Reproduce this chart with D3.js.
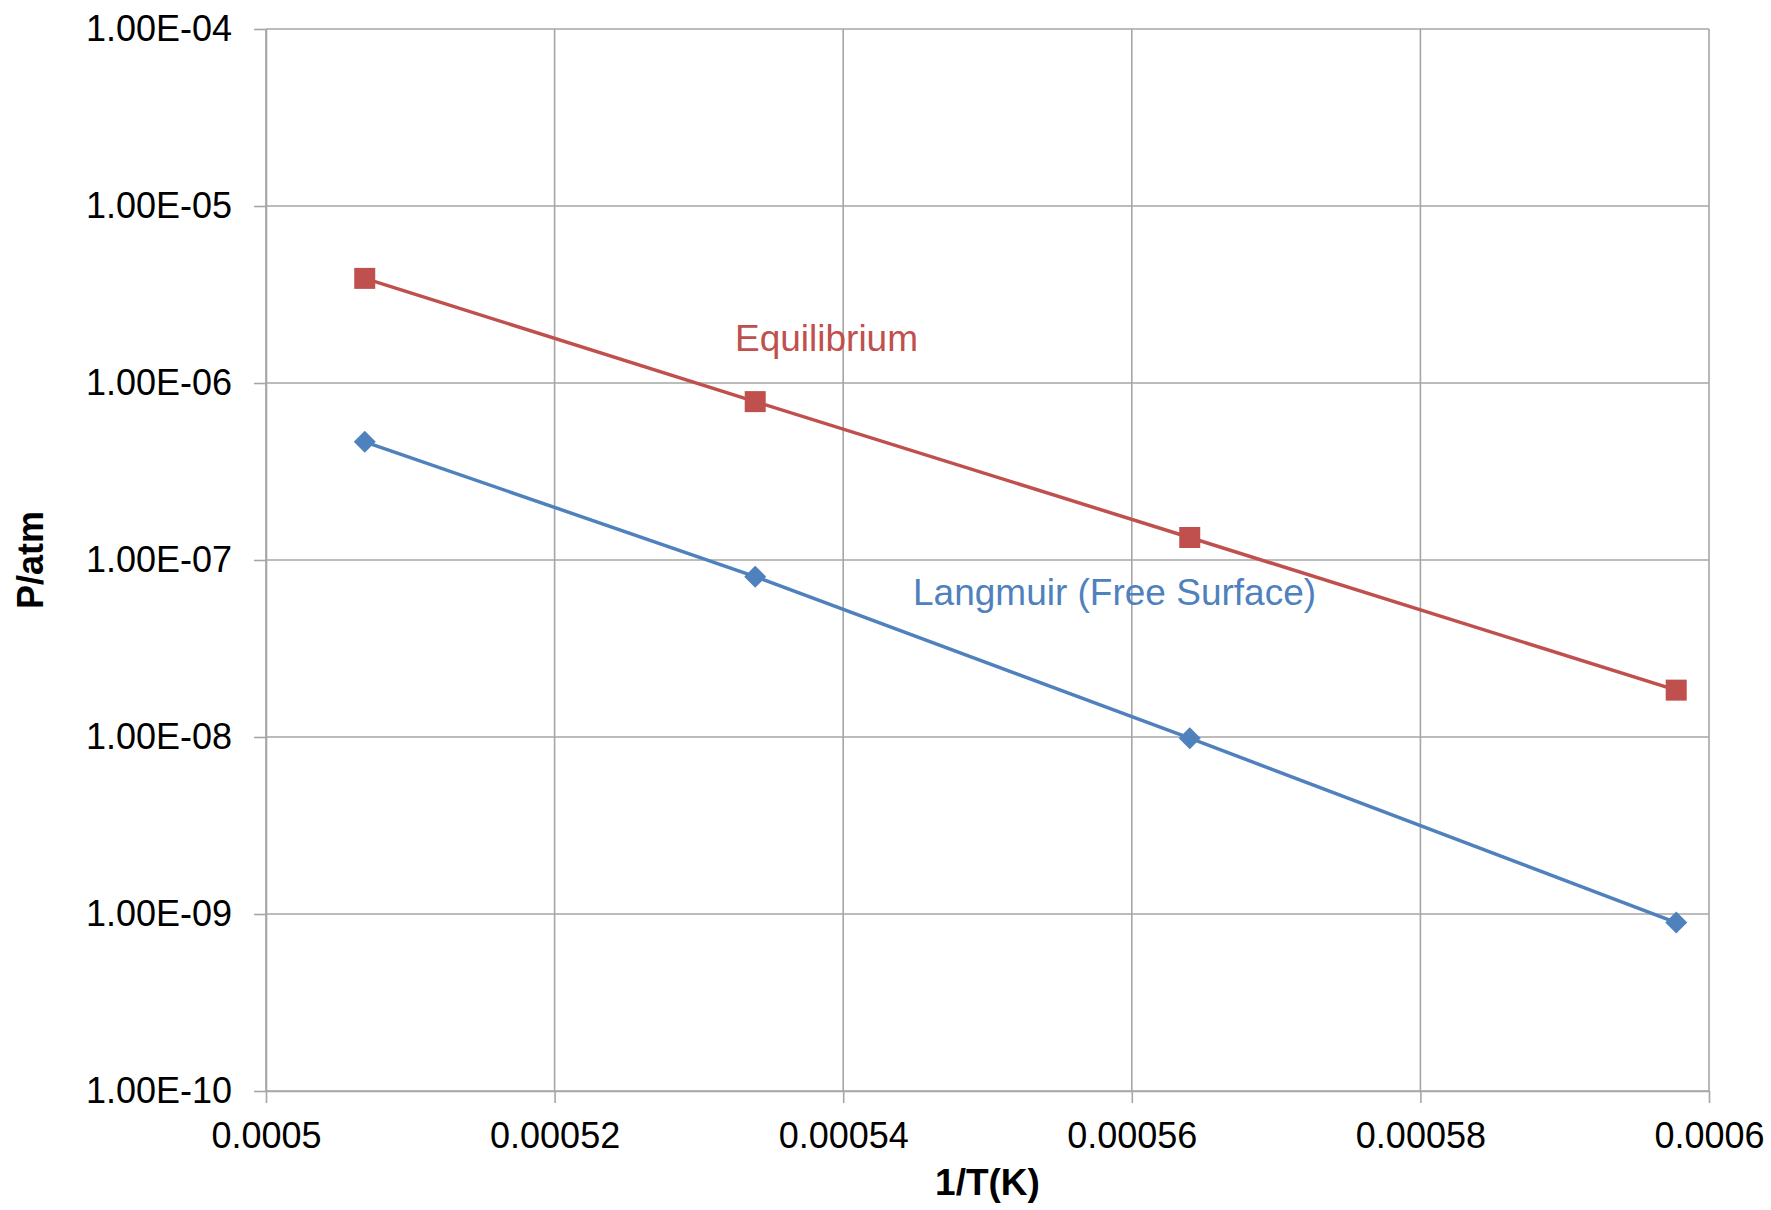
<!DOCTYPE html>
<html>
<head>
<meta charset="utf-8">
<script src="https://cdn.jsdelivr.net/npm/d3@7"></script>
<style>
  html, body { margin: 0; padding: 0; background: #fff; }
  svg { display: block; }
</style>
</head>
<body>
<div id="chart"></div>
<script>
// 1/T values (T = 1700..1400 C in kelvin)
const invT = [1 / 1973, 1 / 1873, 1 / 1773, 1 / 1673];
const equilibrium = [3.9e-6, 7.85e-7, 1.34e-7, 1.84e-8];
const langmuir = [4.65e-7, 8.05e-8, 9.85e-9, 8.95e-10];

const xTicks = [0.0005, 0.00052, 0.00054, 0.00056, 0.00058, 0.0006];
const xTickLabels = ['0.0005', '0.00052', '0.00054', '0.00056', '0.00058', '0.0006'];
const yTicks = [1e-10, 1e-9, 1e-8, 1e-7, 1e-6, 1e-5, 1e-4];
const yTickLabels = ['1.00E-10', '1.00E-09', '1.00E-08', '1.00E-07', '1.00E-06', '1.00E-05', '1.00E-04'];

const width = 1771, height = 1210;
const margin = { top: 29, right: 62, bottom: 119, left: 266 };
const innerW = width - margin.left - margin.right;
const innerH = height - margin.top - margin.bottom;

const red = '#C0504D';
const blue = '#4F81BD';
const gridColor = '#a6a6a6';
const font = '"Liberation Sans", Arial, sans-serif';

const svg = d3.select('#chart')
    .append('svg')
    .attr('width', width)
    .attr('height', height);

const g = svg.append('g')
    .attr('transform', `translate(${margin.left},${margin.top})`);

const x = d3.scaleLinear().domain([0.0005, 0.0006]).range([0, innerW]);
const y = d3.scaleLog().domain([1e-10, 1e-4]).range([innerH, 0]);

// grid lines
g.selectAll('.hgrid')
    .data(yTicks)
    .enter()
    .append('line')
    .attr('class', 'hgrid')
    .attr('x1', 0)
    .attr('x2', innerW)
    .attr('y1', d => y(d))
    .attr('y2', d => y(d))
    .style('stroke', gridColor)
    .style('stroke-width', '1.6px');

g.selectAll('.vgrid')
    .data(xTicks)
    .enter()
    .append('line')
    .attr('class', 'vgrid')
    .attr('x1', d => x(d))
    .attr('x2', d => x(d))
    .attr('y1', 0)
    .attr('y2', innerH)
    .style('stroke', gridColor)
    .style('stroke-width', '1.6px');

// axes
const yAxis = g.append('g')
    .call(d3.axisLeft(y)
        .tickValues(yTicks)
        .tickFormat((d, i) => yTickLabels[i])
        .tickSize(12)
        .tickSizeOuter(0)
        .tickPadding(22));

const xAxis = g.append('g')
    .attr('transform', `translate(0,${innerH})`)
    .call(d3.axisBottom(x)
        .tickValues(xTicks)
        .tickFormat((d, i) => xTickLabels[i])
        .tickSize(12)
        .tickSizeOuter(0)
        .tickPadding(19));

[yAxis, xAxis].forEach(ax => {
    ax.select('.domain').style('stroke', gridColor).style('stroke-width', '1.6px');
    ax.selectAll('.tick line').style('stroke', gridColor).style('stroke-width', '1.6px');
    ax.selectAll('.tick text')
        .style('font-family', font)
        .style('font-size', '36px')
        .style('fill', '#000');
});

// series lines
const line = d3.line()
    .x((d, i) => x(invT[i]))
    .y(d => y(d));

g.append('path')
    .datum(equilibrium)
    .attr('d', line)
    .style('fill', 'none')
    .style('stroke', red)
    .style('stroke-width', '3.5px');

g.append('path')
    .datum(langmuir)
    .attr('d', line)
    .style('fill', 'none')
    .style('stroke', blue)
    .style('stroke-width', '3.5px');

// markers
g.selectAll('.sq')
    .data(equilibrium)
    .enter()
    .append('rect')
    .attr('class', 'sq')
    .attr('x', (d, i) => x(invT[i]) - 10.5)
    .attr('y', d => y(d) - 10.5)
    .attr('width', 21)
    .attr('height', 21)
    .style('fill', red);

g.selectAll('.dia')
    .data(langmuir)
    .enter()
    .append('path')
    .attr('class', 'dia')
    .attr('transform', (d, i) => `translate(${x(invT[i])},${y(d)})`)
    .attr('d', 'M0,-11L11,0L0,11L-11,0Z')
    .style('fill', blue);

// series labels
g.append('text')
    .attr('x', 735 - margin.left)
    .attr('y', 351 - margin.top)
    .style('font-family', font)
    .style('font-size', '37px')
    .style('fill', red)
    .text('Equilibrium');

g.append('text')
    .attr('x', 913 - margin.left)
    .attr('y', 605 - margin.top)
    .style('font-family', font)
    .style('font-size', '37px')
    .style('fill', blue)
    .text('Langmuir (Free Surface)');

// axis titles
svg.append('text')
    .attr('x', margin.left + innerW / 2)
    .attr('y', 1195)
    .attr('text-anchor', 'middle')
    .style('font-family', font)
    .style('font-size', '37px')
    .style('font-weight', 'bold')
    .text('1/T(K)');

svg.append('text')
    .attr('transform', `translate(43,${margin.top + innerH / 2}) rotate(-90)`)
    .attr('text-anchor', 'middle')
    .style('font-family', font)
    .style('font-size', '36px')
    .style('font-weight', 'bold')
    .text('P/atm');
</script>
</body>
</html>
